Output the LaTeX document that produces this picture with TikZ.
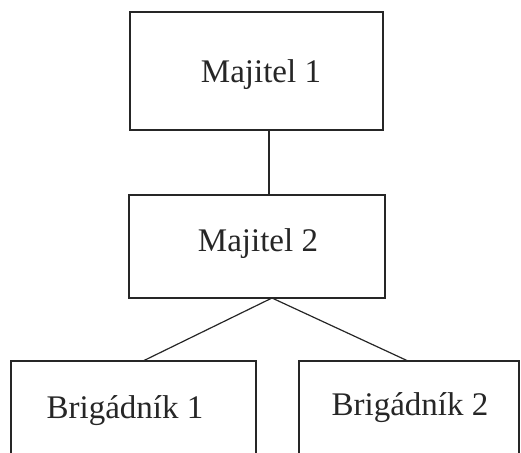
\documentclass[tikz,border=0pt]{standalone}
\usepackage{fontspec}
\setmainfont{Liberation Serif}
\begin{document}
\begin{tikzpicture}[x=1pt,y=-1pt,
  box/.style={draw=black!85,line width=1.4pt,rectangle,inner sep=0pt,outer sep=0pt},
  lbl/.style={font=\fontsize{33}{39}\selectfont,anchor=base,inner sep=0pt,text=black!85},
  conn/.style={draw=black!85,line width=1.2pt}]
\useasboundingbox (0,0) rectangle (521,452);
\clip (0,0) rectangle (521,452);
\node[box,minimum width=253pt,minimum height=118pt] (m1) at (256.5,71) {};
\node[box,minimum width=256pt,minimum height=103pt] (m2) at (257,246.5) {};
\node[box,minimum width=245pt,minimum height=120pt] (b1) at (133.5,421) {};
\node[box,minimum width=220pt,minimum height=120pt] (b2) at (409,421) {};
\node[lbl] (t1) at (261,82) {Majitel 1};
\node[lbl] (t2) at (258,251.5) {Majitel 2};
\node[lbl] (t3) at (125,418) {Brigádník 1};
\node[lbl] (t4) at (410,415) {Brigádník 2};
\coordinate (k1) at (269,0);
\coordinate (k2) at (272,0);
\coordinate (k3) at (143,0);
\coordinate (k4) at (408,0);
\draw[conn] (m1.south -| k1) -- (m2.north -| k1);
\draw[conn] (m2.south -| k2) -- (b1.north -| k3);
\draw[conn] (m2.south -| k2) -- (b2.north -| k4);
\end{tikzpicture}
\end{document}
